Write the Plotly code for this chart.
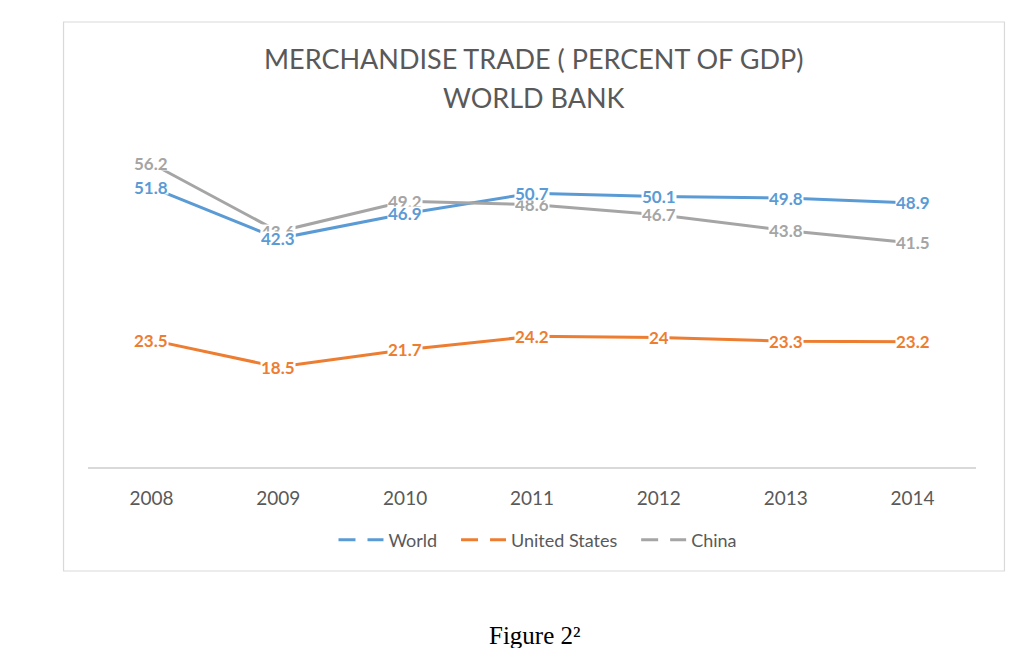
import plotly.graph_objects as go

years = ["2008", "2009", "2010", "2011", "2012", "2013", "2014"]
world = [51.8, 42.3, 46.9, 50.7, 50.1, 49.8, 48.9]
usa = [23.5, 18.5, 21.7, 24.2, 24, 23.3, 23.2]
china = [56.2, 43.6, 49.2, 48.6, 46.7, 43.8, 41.5]

series = [("World", world, "#5B9BD5"),
          ("United States", usa, "#ED7D31"),
          ("China", china, "#A5A5A5")]

OFF = 8  # page body margin
W, H = 1008, 640
L, R, T, B = 87.5 - OFF, 976.5 - OFF, 143 - OFF, 467 - OFF  # plot area in px


def px(x):
    return (x - OFF - L) / (R - L)


def py(y):
    return (B - (y - OFF)) / (B - T)


fig = go.Figure()
for name, vals, col in series:
    fig.add_trace(go.Scatter(x=years, y=vals, mode="lines", name=name,
                             line=dict(color=col, width=3),
                             showlegend=False, hoverinfo="skip"))
# legend entries (Excel-like dashed sample)
pad = {"World": "\u00a0\u00a0\u00a0", "United States": "\u00a0\u00a0\u00a0", "China": ""}
for name, vals, col in series:
    fig.add_trace(go.Scatter(x=[None], y=[None], mode="lines", name=name + pad[name],
                             line=dict(color=col, width=3, dash="17px,12px")))

annotations = []
# data labels: China first, then US, then World (World on top)
for name, vals, col in [series[2], series[1], series[0]]:
    for i, v in enumerate(vals):
        annotations.append(dict(x=i, y=v, xref="x", yref="y", text=f"{v:g}",
                                showarrow=False, bgcolor="white", borderpad=0,
                                height=13, valign="middle",
                                font=dict(family="Lato", size=17, color=col,
                                          weight="bold")))

annotations.append(dict(x=px(534), y=py(59), xref="paper", yref="paper",
                        text="MERCHANDISE TRADE ( PERCENT OF GDP)", showarrow=False,
                        xanchor="center", yanchor="middle",
                        font=dict(family="Lato", size=27, color="#595959")))
annotations.append(dict(x=px(534), y=py(97), xref="paper", yref="paper",
                        text="WORLD BANK", showarrow=False,
                        xanchor="center", yanchor="middle",
                        font=dict(family="Lato", size=27, color="#595959")))
annotations.append(dict(x=px(535.5), y=py(635), xref="paper", yref="paper",
                        text="Figure 2\u00b2", showarrow=False,
                        xanchor="center", yanchor="middle",
                        font=dict(family="Liberation Serif", size=25, color="black")))

shapes = [dict(type="rect", xref="paper", yref="paper",
               x0=px(63), x1=px(1005), y0=py(571), y1=py(22),
               line=dict(color="#D9D9D9", width=1.2), fillcolor="rgba(0,0,0,0)",
               layer="below")]

fig.update_layout(
    width=W, height=H,
    margin=dict(l=L, r=W - R, t=T, b=H - B, pad=0),
    paper_bgcolor="white", plot_bgcolor="white",
    showlegend=True,
    legend=dict(orientation="h", x=px(538), y=py(540), xanchor="center",
                yanchor="middle", font=dict(family="Lato", size=18, color="#595959"),
                itemwidth=45, bgcolor="rgba(0,0,0,0)"),
    xaxis=dict(type="category", range=[-0.5, 6.5], showline=True,
               linecolor="#D9D9D9", linewidth=1.5, showgrid=False, zeroline=False,
               ticks="", ticklabelstandoff=13,
               tickfont=dict(family="Lato", size=19, color="#595959")),
    yaxis=dict(range=[0, 60], visible=False, showgrid=False, zeroline=False),
    annotations=annotations,
    shapes=shapes,
)

fig.write_html("out.html")
